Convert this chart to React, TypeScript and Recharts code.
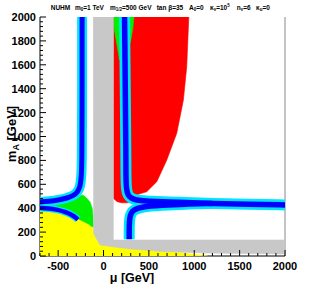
import React from "react";
import { ComposedChart, Scatter, XAxis, YAxis, ReferenceLine } from "recharts";

// NUHM (mu, m_A) plane, m0 = 1 TeV, m1/2 = 500 GeV, tan beta = 35
// every region is a polygon in (mu [GeV], m_A [GeV]); bands are centre lines

const X_LABELS = [-500, 0, 500, 1000, 1500, 2000];
const Y_LABELS = [0, 200, 400, 600, 800, 1000, 1200, 1400, 1600, 1800, 2000];

const RED_REGION = [
  [108, 2000], [940, 2000], [917, 1584], [880, 1305], [807, 1027], [697, 803],
  [587, 622], [476, 538], [384, 516], [317, 453], [260, 445], [200, 445],
  [150, 455], [108, 483],
];

const GREEN_TOP_LEFT = [
  [112, 2000], [200, 2000], [192, 1800], [176, 1640], [150, 1760], [118, 1900], [112, 1960],
];

const GREEN_TOP_RIGHT = [
  [262, 2000], [335, 2000], [322, 1900], [295, 1785], [272, 1880], [262, 1960],
];

const GREEN_LOW_LEFT = [
  [-700, 440], [-520, 445], [-400, 465], [-300, 490], [-229, 510], [-193, 490],
  [-150, 455], [-125, 400], [-115, 330], [-112, 240], [-160, 255], [-270, 300],
  [-380, 343], [-520, 370], [-700, 375],
];

const YELLOW_REGION = [
  [-700, 0], [-700, 374], [-523, 369], [-377, 343], [-267, 301], [-157, 259],
  [-101, 218], [-60, 160], [0, 110], [270, 70], [645, 45], [1150, 0],
];

const GRAY_REGION = [
  [-115, 2000], [108, 2000], [108, 134], [2000, 134], [2000, 17], [1120, 25],
  [645, 38], [270, 60], [-38, 92], [-112, 190],
];

const BAND_UPPER_LEFT = [
  [-700, 452], [-600, 458], [-500, 468], [-400, 485], [-330, 505], [-285, 535],
  [-258, 580], [-245, 650], [-238, 800], [-236, 1200], [-236, 2000],
];

const BAND_LOWER_LEFT = [
  [-700, 403], [-600, 398], [-523, 391], [-413, 368], [-340, 340], [-300, 318], [-283, 305],
];

const BAND_UPPER_RIGHT = [
  [232, 2000], [240, 1400], [246, 900], [247, 650], [252, 560], [268, 510],
  [300, 485], [360, 467], [460, 460], [640, 455], [900, 448], [1200, 440],
  [1600, 432], [2000, 427],
];

const BAND_LOWER_RIGHT = [
  [283, 140], [283, 250], [288, 320], [305, 360], [329, 385], [421, 413],
  [640, 424], [900, 434], [1200, 440],
];

const RED = "#ff0000";
const GREEN = "#00f000";
const YELLOW = "#ffff00";
const GRAY = "#c8c8c8";
const BLUE = "#0000ff";
const CYAN = "#00e5ff";

const FONT = "'Liberation Sans', Arial, Helvetica, sans-serif";

function range(from: number, to: number, step: number) {
  const out: number[] = [];
  for (let v = from; v <= to + 1e-9; v += step) out.push(Math.round(v));
  return out;
}

const X_TICKS = range(-700, 2000, 100);
const Y_TICKS = range(0, 2000, 40);

const toPts = (arr: number[][]) => arr.map(([x, y]) => ({ x, y }));

const Nothing = () => <g />;

function region(key: string, data: number[][], color: string) {
  return (
    <Scatter
      key={key}
      data={toPts(data)}
      shape={Nothing}
      line={{ fill: color, stroke: color, strokeWidth: 0.6 }}
      lineType="joint"
      lineJointType="linear"
      isAnimationActive={false}
    />
  );
}

function band(key: string, data: number[][], color: string, width: number) {
  return (
    <Scatter
      key={key}
      data={toPts(data)}
      shape={Nothing}
      line={{ fill: "none", stroke: color, strokeWidth: width, strokeLinejoin: "round" }}
      lineType="joint"
      lineJointType="basis"
      isAnimationActive={false}
    />
  );
}

function XTick({ x, y, payload }: any) {
  const major = X_LABELS.includes(payload.value);
  return (
    <g>
      <line x1={x} x2={x} y1={y} y2={y - (major ? 6 : 3)} stroke="#000" />
      {major && (
        <text x={x} y={y + 14} textAnchor="middle" fontSize={11} fontWeight="bold" fontFamily={FONT} fill="#000">
          {payload.value}
        </text>
      )}
    </g>
  );
}

function YTick({ x, y, payload }: any) {
  const major = Y_LABELS.includes(payload.value);
  return (
    <g>
      <line x1={x} x2={x + (major ? 6 : 3)} y1={y} y2={y} stroke="#000" />
      {major && (
        <text x={x - 4} y={y + 4} textAnchor="end" fontSize={11} fontWeight="bold" fontFamily={FONT} fill="#000">
          {payload.value}
        </text>
      )}
    </g>
  );
}

function Titles() {
  const t = { fontSize: 6.5, fontWeight: "bold" as const, fontFamily: FONT, fill: "#000" };
  const sub = { fontSize: 4.5 };
  return (
    <svg width={330} height={284} style={{ position: "absolute", left: 0, top: 0, pointerEvents: "none" }}>
      <text x={50.7} y={9.5} {...t}>NUHM</text>
      <text x={75} y={9.5} {...t}>
        m<tspan {...sub} dy={1.5}>0</tspan><tspan dy={-1.5}>=1 TeV</tspan>
      </text>
      <text x={110} y={9.5} {...t}>
        m<tspan {...sub} dy={1.5}>1/2</tspan><tspan dy={-1.5}>=500 GeV</tspan>
      </text>
      <text x={156.7} y={9.5} {...t}>tan β=35</text>
      <text x={189} y={9.5} {...t}>
        A<tspan {...sub} dy={1.5}>0</tspan><tspan dy={-1.5}>=0</tspan>
      </text>
      <text x={210} y={9.5} {...t}>
        κ<tspan {...sub} dy={1.5}>ν</tspan><tspan dy={-1.5}>=10</tspan>
        <tspan {...sub} dy={-2.5}>5</tspan>
      </text>
      <text x={236.7} y={9.5} {...t}>
        n<tspan {...sub} dy={1.5}>ν</tspan><tspan dy={-1.5}>=6</tspan>
      </text>
      <text x={256} y={9.5} {...t}>
        κ<tspan {...sub} dy={1.5}>u</tspan><tspan dy={-1.5}>=0</tspan>
      </text>

      <text x={132} y={281.5} textAnchor="middle" fontSize={12.5} fontWeight="bold" fontFamily={FONT} fill="#000">
        μ [GeV]
      </text>
      <text transform="translate(16,134) rotate(-90)" textAnchor="middle" fontSize={13} fontWeight="bold" fontFamily={FONT} fill="#000">
        m<tspan fontSize={9} dy={3}>A</tspan><tspan dy={-3}> [GeV]</tspan>
      </text>
    </svg>
  );
}

export default function App() {
  return (
    <div style={{ position: "relative", width: 330, height: 284, background: "#fff" }}>
      <style>{`body{margin:0}`}</style>
      <ComposedChart width={330} height={284} margin={{ top: 17, right: 45, bottom: 0, left: 0 }}>
        <XAxis
          type="number"
          dataKey="x"
          domain={[-700, 2000]}
          allowDataOverflow
          ticks={X_TICKS}
          interval={0}
          tick={<XTick />}
          tickLine={false}
          tickSize={0}
          tickMargin={0}
          height={28}
          axisLine={{ stroke: "#000" }}
        />
        <YAxis
          type="number"
          dataKey="y"
          domain={[0, 2000]}
          allowDataOverflow
          ticks={Y_TICKS}
          interval={0}
          tick={<YTick />}
          tickLine={false}
          tickSize={0}
          tickMargin={0}
          width={40}
          axisLine={{ stroke: "#000" }}
        />
        {region("red", RED_REGION, RED)}
        {region("greenTL", GREEN_TOP_LEFT, GREEN)}
        {region("greenTR", GREEN_TOP_RIGHT, GREEN)}
        {region("greenLL", GREEN_LOW_LEFT, GREEN)}
        {region("yellow", YELLOW_REGION, YELLOW)}
        {band("cUL", BAND_UPPER_LEFT, CYAN, 10)}
        {band("cLL", BAND_LOWER_LEFT, CYAN, 7)}
        {band("cUR", BAND_UPPER_RIGHT, CYAN, 11)}
        {band("cLR", BAND_LOWER_RIGHT, CYAN, 11)}
        {band("bUL", BAND_UPPER_LEFT, BLUE, 5)}
        {band("bLL", BAND_LOWER_LEFT, BLUE, 4.5)}
        {band("bUR", BAND_UPPER_RIGHT, BLUE, 5.5)}
        {band("bLR", BAND_LOWER_RIGHT, BLUE, 5.5)}
        {region("gray", GRAY_REGION, GRAY)}
        <ReferenceLine x={2000} stroke="#888" />
      </ComposedChart>
      <Titles />
    </div>
  );
}
